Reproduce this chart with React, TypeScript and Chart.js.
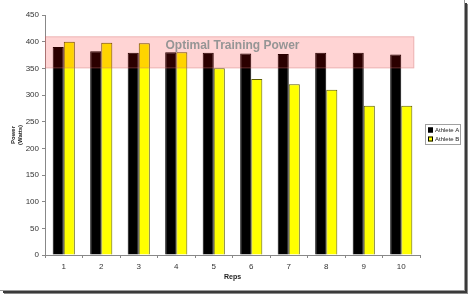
import React, { useEffect, useRef } from "react";
import { Chart, registerables } from "chart.js";

Chart.register(...registerables);

const reps = ["1", "2", "3", "4", "5", "6", "7", "8", "9", "10"];
const athleteA = [390, 382, 379, 380, 379, 378, 377, 379, 379, 376];
const athleteB = [400, 398, 397, 380, 350, 330, 320, 310, 280, 280];
const optimalLow = 350;
const optimalHigh = 410;
const optimalLabel = "Optimal Training Power";

const FONT = "'Liberation Sans', Arial, sans-serif";

// Frame with a drop shadow on the right and bottom edges
const framePlugin = {
  id: "frame",
  beforeDraw(chart: any) {
    const { ctx } = chart;
    ctx.save();
    ctx.fillStyle = "#ffffff";
    ctx.fillRect(0, 0, chart.width, chart.height);
    ctx.fillStyle = "#9a9a9a";
    ctx.fillRect(464, 0, 1, 291);
    ctx.fillRect(0, 290, 465, 1);
    ctx.fillStyle = "#3a3a3a";
    ctx.fillRect(465, 3, 2, 290);
    ctx.fillRect(3, 291, 464, 2);
    ctx.fillStyle = "#8a8a8a";
    ctx.fillRect(467, 4, 1, 290);
    ctx.fillRect(4, 293, 464, 1);
    ctx.restore();
  },
};

// Translucent band marking the optimal power range, with its caption
const bandPlugin = {
  id: "band",
  afterDatasetsDraw(chart: any) {
    const { ctx, chartArea, scales } = chart;
    const y = scales.y;
    const x = scales.x;
    const top = y.getPixelForValue(optimalHigh);
    const bottom = y.getPixelForValue(optimalLow);
    const left = chartArea.left;
    const right = x.getPixelForValue(reps.length - 1) + 13;
    ctx.save();
    ctx.fillStyle = "rgba(255,0,0,0.17)";
    ctx.fillRect(left, top, right - left, bottom - top);
    ctx.strokeStyle = "rgba(200,120,120,0.35)";
    ctx.lineWidth = 1;
    ctx.strokeRect(left + 0.5, top + 0.5, right - left - 1, bottom - top - 1);
    ctx.fillStyle = "#959595";
    ctx.font = `bold 12px ${FONT}`;
    ctx.textAlign = "center";
    ctx.textBaseline = "middle";
    ctx.fillText(optimalLabel, (chartArea.left + chartArea.right) / 2, top + 9);
    ctx.restore();
  },
};

// Small boxed legend on the right
const legendPlugin = {
  id: "boxLegend",
  afterDraw(chart: any) {
    const { ctx } = chart;
    const bx = 425;
    const by = 124;
    const bw = 35;
    const bh = 20;
    ctx.save();
    ctx.fillStyle = "#ffffff";
    ctx.fillRect(bx, by, bw, bh);
    ctx.strokeStyle = "#a0a0a0";
    ctx.lineWidth = 1;
    ctx.strokeRect(bx + 0.5, by + 0.5, bw, bh);
    ctx.font = `6px ${FONT}`;
    ctx.textBaseline = "middle";
    ctx.textAlign = "left";
    chart.data.datasets.forEach((ds: any, i: number) => {
      const cy = by + 6 + i * 9;
      ctx.fillStyle = ds.backgroundColor;
      ctx.fillRect(bx + 3, cy - 2.5, 5, 5);
      ctx.strokeStyle = "#000000";
      ctx.strokeRect(bx + 3.5, cy - 2, 4, 4);
      ctx.fillStyle = "#222222";
      ctx.fillText(ds.label, bx + 10, cy + 0.5);
    });
    ctx.restore();
  },
};

export default function App() {
  const canvasRef = useRef<HTMLCanvasElement>(null);

  useEffect(() => {
    document.body.style.margin = "0";
    const canvas = canvasRef.current;
    if (!canvas) return;
    const chart = new Chart(canvas, {
      type: "bar",
      data: {
        labels: reps,
        datasets: [
          {
            label: "Athlete A",
            data: athleteA,
            backgroundColor: "#000000",
            borderColor: "#000000",
            borderWidth: 1,
            categoryPercentage: 0.59,
            barPercentage: 1,
          },
          {
            label: "Athlete B",
            data: athleteB,
            backgroundColor: "#ffff00",
            borderColor: "#5e5e00",
            borderWidth: 1,
            categoryPercentage: 0.59,
            barPercentage: 1,
          },
        ],
      },
      options: {
        responsive: false,
        animation: false,
        devicePixelRatio: 1,
        layout: { padding: { left: 0, top: 15, right: 49, bottom: 0 } },
        plugins: {
          legend: { display: false },
          tooltip: { enabled: false },
        },
        scales: {
          x: {
            grid: {
              drawOnChartArea: false,
              tickLength: 3,
              color: "#888888",
              offset: true,
            },
            border: { color: "#888888", width: 1 },
            ticks: {
              color: "#333333",
              font: { family: FONT, size: 8 },
              padding: 4,
            },
            title: {
              display: true,
              text: "Reps",
              color: "#222222",
              font: { family: FONT, size: 7, weight: "bold" },
              padding: { top: 4, bottom: 14 },
            },
            afterFit(scale: any) {
              scale.height = 40;
            },
          },
          y: {
            min: 0,
            max: 450,
            ticks: {
              stepSize: 50,
              color: "#333333",
              font: { family: FONT, size: 8 },
              padding: 3,
            },
            grid: {
              drawOnChartArea: false,
              tickLength: 3,
              color: "#888888",
            },
            border: { color: "#888888", width: 1 },
            title: {
              display: true,
              text: ["Power", "(Watts)"],
              color: "#222222",
              font: { family: FONT, size: 6, weight: "bold", lineHeight: 1.1 },
              padding: { top: 10, bottom: 0 },
            },
            afterFit(scale: any) {
              scale.width = 45;
            },
          },
        },
      },
      plugins: [framePlugin, bandPlugin, legendPlugin],
    });
    return () => chart.destroy();
  }, []);

  return (
    <div style={{ width: 469, height: 295 }}>
      <canvas ref={canvasRef} width={469} height={295} style={{ display: "block" }} />
    </div>
  );
}
